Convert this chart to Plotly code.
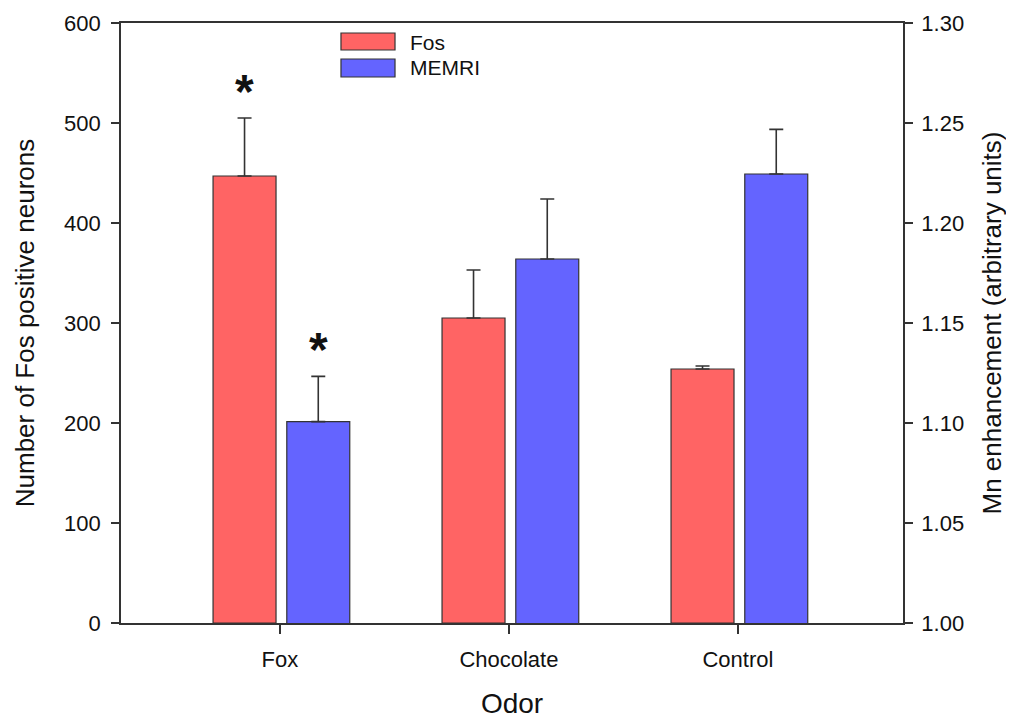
import plotly.graph_objects as go

categories = ["Fox", "Chocolate", "Control"]
fos_values = [447, 305, 254]
fos_errors = [58, 48, 3]
memri_values = [1.1007, 1.182, 1.2245]
memri_errors = [0.0226, 0.030, 0.0223]
left_ticks = [0, 100, 200, 300, 400, 500, 600]
right_ticks = [1.00, 1.05, 1.10, 1.15, 1.20, 1.25, 1.30]
right_tick_labels = ["1.00", "1.05", "1.10", "1.15", "1.20", "1.25", "1.30"]

FONT = "Liberation Sans, Arial, sans-serif"
AX = "#333333"
RED = "#FF6464"
BLUE = "#6464FF"

fig = go.Figure()
fig.add_trace(go.Bar(
    x=categories, y=fos_values, name="Fos",
    width=0.275, offset=-0.292,
    marker=dict(color=RED, line=dict(color=AX, width=1.2)),
    error_y=dict(type="data", array=fos_errors, arrayminus=[0, 0, 0], symmetric=False,
                 color=AX, thickness=1.6, width=7),
    yaxis="y", showlegend=False,
))
fig.add_trace(go.Bar(
    x=categories, y=memri_values, base=0, name="MEMRI",
    width=0.275, offset=0.030,
    marker=dict(color=BLUE, line=dict(color=AX, width=1.2)),
    error_y=dict(type="data", array=memri_errors, arrayminus=[0, 0, 0], symmetric=False,
                 color=AX, thickness=1.6, width=7),
    yaxis="y2", showlegend=False,
))

fig.update_layout(
    width=1006, height=711,
    margin=dict(l=113, r=111, t=15, b=96),
    paper_bgcolor="white", plot_bgcolor="white",
    barmode="overlay",
    font=dict(family=FONT, color="#111111", size=22),
    xaxis=dict(
        type="category", range=[-0.694, 2.721], automargin=False,
        showline=True, linecolor=AX, linewidth=1.8, mirror=True,
        ticks="outside", ticklen=9, tickcolor=AX, tickwidth=1.6,
        tickfont=dict(size=22), showgrid=False, ticklabelstandoff=7,
        title=dict(text="Odor", font=dict(size=28), standoff=28),
    ),
    yaxis=dict(
        range=[0, 600], tickvals=left_ticks, automargin=False,
        showline=True, linecolor=AX, linewidth=1.8,
        ticks="outside", ticklen=8, tickcolor=AX, tickwidth=1.6,
        tickfont=dict(size=22), showgrid=False, zeroline=False,
        ticklabelstandoff=6,
        title=dict(text="Number of Fos positive neurons", font=dict(size=26), standoff=22),
    ),
    yaxis2=dict(
        range=[1.0, 1.3], tickvals=right_ticks, ticktext=right_tick_labels, automargin=False,
        overlaying="y", side="right",
        showline=True, linecolor=AX, linewidth=1.8,
        ticks="outside", ticklen=8, tickcolor=AX, tickwidth=1.6,
        tickfont=dict(size=22), showgrid=False, zeroline=False,
        ticklabelstandoff=4,
        title=dict(text="Mn enhancement (arbitrary units)", font=dict(size=26), standoff=20),
    ),
)

# custom legend
legend_items = [("Fos", RED, 0.955, 0.9833, 0.968), ("MEMRI", BLUE, 0.910, 0.940, 0.925)]
for label, col, y0, y1, yt in legend_items:
    fig.add_shape(type="rect", xref="paper", yref="paper", x0=0.2813, x1=0.3504, y0=y0, y1=y1,
                  fillcolor=col, line=dict(color=AX, width=1.2))
    fig.add_annotation(xref="paper", yref="paper", x=0.367, y=yt, text=label, showarrow=False,
                       xanchor="left", yanchor="middle", font=dict(size=21, color="#111111"))

# significance stars
fig.add_annotation(x="Fox", y=532, xref="x", yref="y", xshift=-35, text="<b>*</b>",
                   showarrow=False, yanchor="middle", font=dict(size=48, color="#111111"))
fig.add_annotation(x="Fox", y=274, xref="x", yref="y", xshift=39, text="<b>*</b>",
                   showarrow=False, yanchor="middle", font=dict(size=48, color="#111111"))

fig.write_html("out.html")
